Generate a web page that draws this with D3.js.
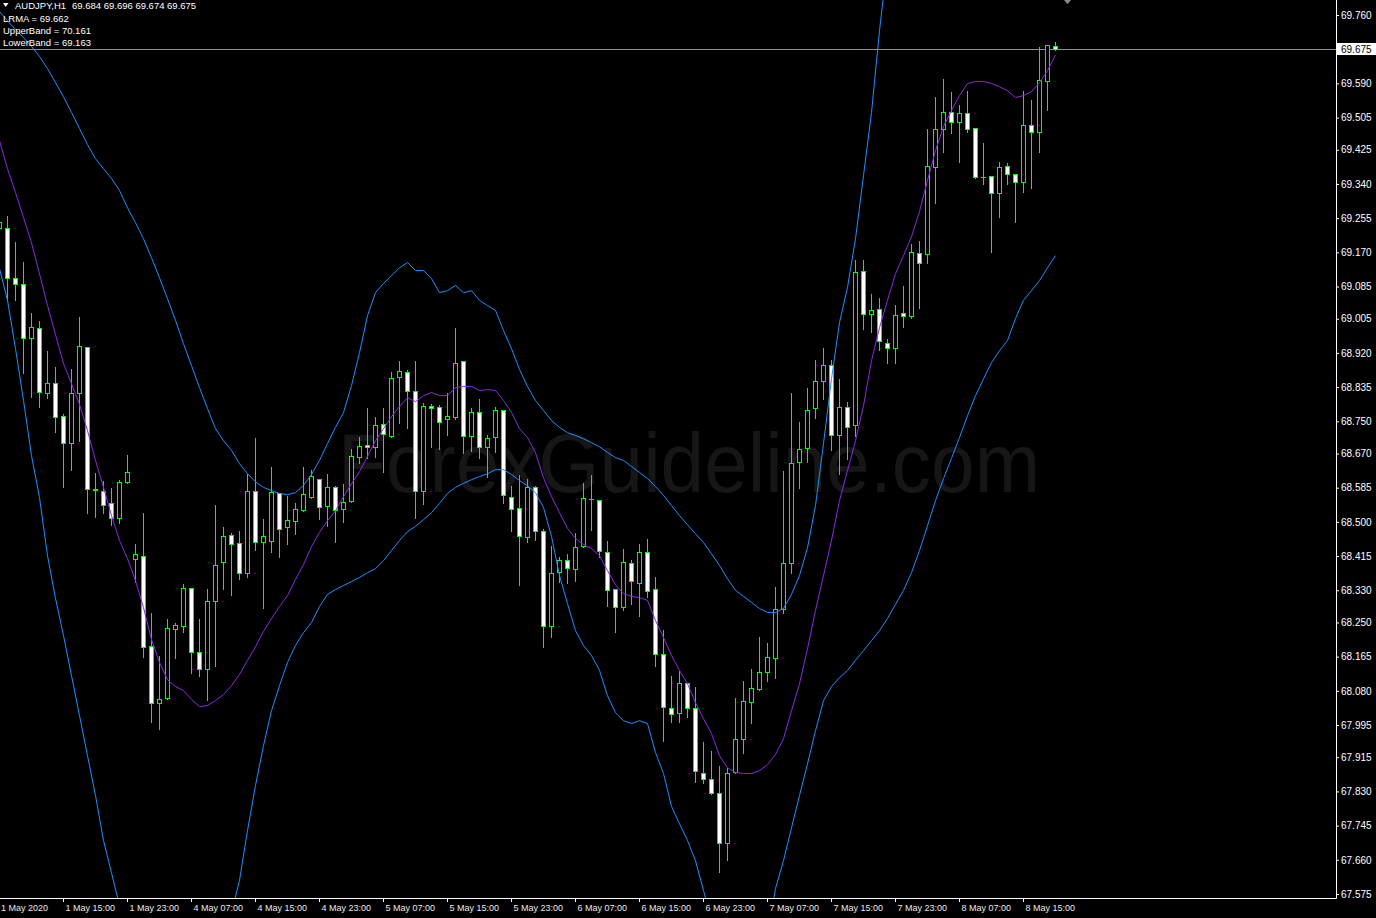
<!DOCTYPE html>
<html>
<head>
<meta charset="utf-8">
<script src="https://cdn.jsdelivr.net/npm/d3@7"></script>
<style>
  html, body { margin: 0; padding: 0; background: #000; }
  svg { display: block; }
  text { font-family: "Liberation Sans", Arial, sans-serif; }
</style>
</head>
<body>
<svg id="chart" width="1376" height="918"></svg>
<script>
// AUDJPY H1, 1 May 07:00 .. 8 May 19:00 (133 bars)
const open = [
  69.230,69.230,69.106,69.091,68.957,68.982,68.820,68.845,68.763,68.696,
  68.820,68.935,68.582,68.577,68.547,68.509,68.599,68.408,68.415,68.191,
  68.050,68.062,68.234,68.241,68.336,68.176,68.134,68.303,68.400,68.467,
  68.447,68.373,68.577,68.450,68.452,68.572,68.487,68.502,68.529,68.562,
  68.606,68.539,68.587,68.532,68.552,68.661,68.691,68.686,68.743,68.713,
  68.860,68.872,68.825,68.577,68.788,68.785,68.756,68.761,68.900,68.713,
  68.773,68.686,68.711,68.778,68.562,68.534,68.462,68.587,68.477,68.241,
  68.375,68.405,68.383,68.440,68.557,68.554,68.425,68.333,68.288,68.398,
  68.348,68.425,68.333,68.171,68.037,68.025,68.099,68.037,67.876,67.861,
  67.826,67.701,67.878,67.960,68.052,68.085,68.127,68.161,68.283,68.398,
  68.649,68.683,68.783,68.850,68.890,68.716,68.785,68.741,69.123,69.017,
  69.029,68.944,68.932,69.019,69.012,69.168,69.166,69.382,69.476,69.519,
  69.494,69.516,69.479,69.357,69.360,69.317,69.384,69.365,69.345,69.486,
  69.469,69.596,69.684
];
const high = [
  69.265,69.263,69.198,69.148,69.022,69.002,68.927,68.887,68.771,68.882,
  69.012,68.937,68.624,68.604,68.587,68.606,68.669,68.448,68.524,68.276,
  68.169,68.261,68.251,68.348,68.338,68.261,68.336,68.544,68.490,68.475,
  68.480,68.621,68.711,68.509,68.639,68.574,68.567,68.549,68.639,68.631,
  68.606,68.621,68.592,68.597,68.683,68.713,68.785,68.763,68.785,68.875,
  68.902,68.880,68.902,68.798,68.795,68.793,68.823,68.985,68.900,68.785,
  68.808,68.718,68.788,68.778,68.592,68.619,68.609,68.592,68.485,68.442,
  68.415,68.423,68.475,68.599,68.619,68.554,68.455,68.336,68.435,68.408,
  68.447,68.460,68.365,68.234,68.119,68.132,68.099,68.092,67.955,67.933,
  67.896,67.891,68.065,68.107,68.137,68.216,68.201,68.341,68.629,68.823,
  68.751,68.835,68.905,68.935,68.905,68.857,68.800,69.153,69.153,69.069,
  69.059,68.957,69.042,69.089,69.193,69.201,69.479,69.558,69.603,69.571,
  69.538,69.573,69.481,69.444,69.362,69.397,69.394,69.367,69.573,69.551,
  69.683,69.688,69.696
];
const low = [
  69.210,69.052,69.052,68.870,68.811,68.786,68.808,68.723,68.587,68.629,
  68.701,68.522,68.512,68.522,68.492,68.497,68.597,68.350,68.164,68.002,
  67.985,68.060,68.161,68.226,68.124,68.117,68.057,68.142,68.333,68.318,
  68.358,68.363,68.430,68.286,68.425,68.413,68.445,68.470,68.527,68.559,
  68.507,68.490,68.450,68.499,68.549,68.646,68.659,68.661,68.624,68.711,
  68.746,68.733,68.509,68.544,68.686,68.681,68.716,68.756,68.671,68.676,
  68.659,68.611,68.674,68.547,68.477,68.343,68.450,68.455,68.189,68.214,
  68.350,68.348,68.353,68.437,68.480,68.413,68.291,68.226,68.281,68.296,
  68.266,68.313,68.142,67.955,68.002,68.002,68.015,67.854,67.851,67.824,
  67.629,67.659,67.875,67.925,68.000,68.083,68.104,68.112,68.273,68.373,
  68.584,68.649,68.758,68.805,68.679,68.619,68.656,68.713,68.979,68.972,
  68.927,68.895,68.895,68.985,69.007,69.032,69.143,69.292,69.419,69.466,
  69.394,69.469,69.355,69.340,69.171,69.258,69.340,69.245,69.320,69.330,
  69.419,69.524,69.674
];
const close = [
  69.245,69.106,69.091,68.957,68.985,68.823,68.845,68.761,68.696,68.820,
  68.937,68.582,68.579,68.542,68.509,68.599,68.624,68.420,68.189,68.050,
  68.060,68.236,68.244,68.336,68.176,68.134,68.303,68.393,68.465,68.445,
  68.373,68.577,68.450,68.465,68.574,68.482,68.504,68.532,68.569,68.614,
  68.537,68.587,68.529,68.549,68.664,68.688,68.686,68.741,68.718,68.857,
  68.875,68.825,68.577,68.788,68.783,68.748,68.763,68.895,68.713,68.773,
  68.686,68.708,68.778,68.567,68.532,68.465,68.587,68.477,68.241,68.373,
  68.405,68.385,68.437,68.559,68.556,68.428,68.331,68.288,68.400,68.353,
  68.425,68.328,68.171,68.040,68.022,68.099,68.037,67.881,67.861,67.826,
  67.701,67.876,67.960,68.055,68.087,68.127,68.164,68.283,68.398,68.646,
  68.681,68.778,68.850,68.890,68.716,68.785,68.736,69.121,69.017,69.027,
  68.949,68.932,69.014,69.012,69.171,69.143,69.384,69.476,69.519,69.494,
  69.516,69.476,69.357,69.358,69.317,69.382,69.365,69.345,69.486,69.469,
  69.598,69.685,69.675
];
const lrma = [
  69.449,69.379,69.320,69.258,69.195,69.118,69.039,68.967,68.895,68.845,
  68.793,68.728,68.654,68.587,68.517,68.455,68.410,68.355,68.288,68.209,
  68.152,68.109,68.092,68.082,68.060,68.042,68.045,68.057,68.072,68.094,
  68.122,68.157,68.191,68.229,68.261,68.291,68.318,68.358,68.395,68.440,
  68.475,68.504,68.529,68.564,68.596,68.626,68.664,68.703,68.733,68.763,
  68.788,68.810,68.800,68.815,68.823,68.815,68.815,68.835,68.838,68.838,
  68.828,68.830,68.828,68.803,68.773,68.733,68.711,68.673,68.611,68.564,
  68.524,68.485,68.460,68.445,68.435,68.417,68.380,68.345,68.323,68.316,
  68.313,68.306,68.256,68.214,68.169,68.132,68.099,68.052,68.012,67.975,
  67.920,67.890,67.878,67.876,67.876,67.883,67.898,67.923,67.962,68.032,
  68.099,68.186,68.281,68.368,68.455,68.554,68.629,68.703,68.790,68.902,
  68.984,69.052,69.118,69.163,69.210,69.273,69.350,69.424,69.484,69.524,
  69.561,69.591,69.596,69.596,69.591,69.583,69.573,69.556,69.561,69.571,
  69.593,69.623,69.662
];
const upperBand = [
  69.770,69.747,69.725,69.705,69.683,69.658,69.628,69.593,69.558,69.519,
  69.479,69.439,69.404,69.379,69.355,69.325,69.282,69.245,69.205,69.158,
  69.108,69.056,69.002,68.944,68.890,68.835,68.783,68.733,68.703,68.679,
  68.646,68.621,68.601,68.587,68.579,68.572,68.569,68.574,68.592,68.619,
  68.654,68.696,68.736,68.773,68.840,68.922,69.014,69.071,69.094,69.113,
  69.133,69.146,69.126,69.126,69.106,69.071,69.076,69.089,69.071,69.076,
  69.052,69.039,69.027,68.977,68.932,68.880,68.838,68.803,68.778,68.753,
  68.736,68.723,68.716,68.708,68.698,68.688,68.674,68.661,68.654,68.639,
  68.624,68.609,68.589,68.567,68.542,68.517,68.494,68.472,68.450,68.422,
  68.393,68.360,68.331,68.316,68.301,68.286,68.276,68.276,68.286,68.321,
  68.368,68.437,68.542,68.696,68.857,68.997,69.084,69.205,69.362,69.519,
  69.722,69.896,70.021,70.108,70.170,70.220,70.257,70.282,70.294,70.294,
  70.289,70.282,70.269,70.257,70.239,70.224,70.207,70.195,70.185,70.175,
  70.170,70.165,70.161
];
const lowerBand = [
  69.131,69.052,68.932,68.803,68.666,68.562,68.417,68.311,68.219,68.119,
  68.020,67.920,67.821,67.709,67.629,67.547,67.460,67.386,67.311,67.237,
  67.187,67.162,67.150,67.162,67.187,67.237,67.311,67.386,67.460,67.530,
  67.610,67.734,67.846,67.945,68.032,68.094,68.152,68.194,68.226,68.251,
  68.291,68.321,68.333,68.343,68.353,68.363,68.375,68.385,68.405,68.430,
  68.455,68.477,68.490,68.507,68.524,68.547,68.572,68.587,68.597,68.606,
  68.614,68.621,68.631,68.631,68.619,68.604,68.591,68.574,68.537,68.465,
  68.368,68.298,68.231,68.194,68.169,68.132,68.069,68.027,68.007,68.000,
  68.007,68.000,67.928,67.876,67.794,67.751,67.709,67.659,67.585,67.510,
  67.436,67.373,67.324,67.299,67.311,67.361,67.473,67.590,67.659,67.741,
  67.821,67.900,67.982,68.057,68.092,68.114,68.132,68.157,68.181,68.206,
  68.231,68.261,68.296,68.331,68.375,68.430,68.492,68.554,68.609,68.659,
  68.711,68.765,68.815,68.857,68.897,68.927,68.952,69.007,69.052,69.076,
  69.101,69.133,69.163
];

const priceTicks = [
  "69.760","69.675","69.590","69.505","69.425","69.340","69.255","69.170","69.085",
  "69.005","68.920","68.835","68.750","68.670","68.585","68.500","68.415","68.330",
  "68.250","68.165","68.080","67.995","67.915","67.830","67.745","67.660","67.575"
];
const timeTickBars = [8,16,24,32,40,48,56,64,72,80,88,96,104,112,120,128];
const timeLabels = [
  "1 May 15:00","1 May 23:00","4 May 07:00","4 May 15:00","4 May 23:00","5 May 07:00",
  "5 May 15:00","5 May 23:00","6 May 07:00","6 May 15:00","6 May 23:00","7 May 07:00",
  "7 May 15:00","7 May 23:00","8 May 07:00","8 May 15:00"
];
const firstLabel = "1 May 2020";

const plotRight = 1336, plotBottom = 898;
const green = "#00ff00";

const svg = d3.select("#chart");
svg.append("rect").attr("width", 1376).attr("height", 918).attr("fill", "#000");

const x = d3.scaleLinear().domain([0, open.length - 1]).range([-1, 1055]);
const y = d3.scaleLinear().domain([67.575, 69.760]).range([894, 15]);

svg.append("defs").append("clipPath").attr("id", "plot")
  .append("rect").attr("width", plotRight).attr("height", plotBottom);

const plot = svg.append("g").attr("clip-path", "url(#plot)");

// watermark
plot.append("text")
  .attr("x", 338).attr("y", 492)
  .attr("font-size", 84)
  .attr("textLength", 702)
  .attr("lengthAdjust", "spacingAndGlyphs")
  .attr("fill", "#161616")
  .text("ForexGuideline.com");

// bid line
const lastClose = close[close.length - 1];
const bidY = Math.round(y(lastClose)) + 0.5;
plot.append("line")
  .attr("x1", 0).attr("x2", plotRight)
  .attr("y1", bidY).attr("y2", bidY)
  .attr("stroke", "#8d939b");

// candles
const bars = open.map((o, i) => ({i, o, h: high[i], l: low[i], c: close[i]}));
const px = i => Math.round(x(i));
const py = v => Math.round(y(v));

plot.append("g").selectAll("line")
  .data(bars)
  .join("line")
    .attr("x1", d => px(d.i) + 0.5).attr("x2", d => px(d.i) + 0.5)
    .attr("y1", d => py(d.h) + 0.5).attr("y2", d => py(d.l) + 0.5)
    .attr("stroke", green)
    .attr("shape-rendering", "crispEdges");

const bodies = plot.append("g");
bars.forEach(d => {
  const top = py(Math.max(d.o, d.c));
  const bot = py(Math.min(d.o, d.c));
  const cx = px(d.i);
  if (bot - top < 1) {
    bodies.append("line")
      .attr("x1", cx - 2).attr("x2", cx + 3)
      .attr("y1", top + 0.5).attr("y2", top + 0.5)
      .attr("stroke", green)
      .attr("shape-rendering", "crispEdges");
  } else {
    bodies.append("rect")
      .attr("x", cx - 1.5).attr("y", top + 0.5)
      .attr("width", 4).attr("height", bot - top)
      .attr("fill", d.c < d.o ? "#fff" : "#000")
      .attr("stroke", green)
      .attr("shape-rendering", "crispEdges");
  }
});

// indicator lines
const line = d3.line().x((d, i) => x(i) + 0.5).y(d => y(d) + 0.5);
[[upperBand, "#1e90ff"], [lowerBand, "#1e90ff"], [lrma, "#8a2be2"]].forEach(([vals, col]) => {
  plot.append("path")
    .datum(vals)
    .attr("d", line)
    .attr("fill", "none")
    .attr("stroke", col)
    .attr("stroke-width", 1);
});

// small shift marker at top
svg.append("path").attr("d", "M1064,0 L1071,0 L1067.5,4 Z").attr("fill", "#8c8c8c");

// axes frame
svg.append("line").attr("x1", 0).attr("x2", plotRight + 0.5)
  .attr("y1", plotBottom + 0.5).attr("y2", plotBottom + 0.5).attr("stroke", "#fff");
svg.append("line").attr("x1", plotRight + 0.5).attr("x2", plotRight + 0.5)
  .attr("y1", 0).attr("y2", plotBottom + 0.5).attr("stroke", "#fff");

// price axis
const yAxis = d3.axisRight(y)
  .tickValues(priceTicks.map(Number))
  .tickFormat(d3.format(".3f"))
  .tickSize(3)
  .tickPadding(2);
const gy = svg.append("g").attr("transform", `translate(${plotRight},0)`).call(yAxis);
gy.select(".domain").remove();
gy.selectAll(".tick line").attr("stroke", "#fff");
gy.selectAll(".tick text")
  .attr("fill", "#fff")
  .attr("font-size", 10)
  .attr("font-family", "Liberation Sans, Arial, sans-serif");

// current price label
svg.append("rect").attr("x", 1337).attr("y", bidY - 6.5).attr("width", 39).attr("height", 12).attr("fill", "#fff");
svg.append("text")
  .attr("x", 1341).attr("y", bidY).attr("dy", "0.34em")
  .attr("font-size", 10).attr("fill", "#000")
  .text(d3.format(".3f")(lastClose));

// time axis
const xAxis = d3.axisBottom(x)
  .tickValues(timeTickBars)
  .tickFormat((d, i) => timeLabels[i])
  .tickSize(4)
  .tickPadding(3);
const gx = svg.append("g").attr("transform", `translate(0,${plotBottom})`).call(xAxis);
gx.select(".domain").remove();
gx.selectAll(".tick line").attr("stroke", "#fff");
gx.selectAll(".tick text")
  .attr("text-anchor", "start")
  .attr("x", 2)
  .attr("fill", "#e8e8e8")
  .attr("font-size", 9)
  .attr("font-family", "Liberation Sans, Arial, sans-serif");
svg.append("text")
  .attr("x", 1).attr("y", plotBottom + 7).attr("dy", "0.71em")
  .attr("font-size", 9).attr("fill", "#e8e8e8")
  .text(firstLabel);

// header
svg.append("path").attr("d", "M3,3 L8.5,3 L5.75,7 Z").attr("fill", "#fff");
const header = svg.append("g").attr("font-size", 9.5).attr("fill", "#fff");
header.append("text").attr("x", 15).attr("y", 9).text("AUDJPY,H1");
header.append("text").attr("x", 72).attr("y", 9)
  .text([open, high, low, close].map(a => a[a.length - 1].toFixed(3)).join(" "));
header.append("text").attr("x", 3).attr("y", 21.5).text("LRMA = " + lrma[lrma.length - 1].toFixed(3));
header.append("text").attr("x", 3).attr("y", 34).text("UpperBand = " + upperBand[upperBand.length - 1].toFixed(3));
header.append("text").attr("x", 3).attr("y", 46).text("LowerBand = " + lowerBand[lowerBand.length - 1].toFixed(3));
</script>
</body>
</html>
